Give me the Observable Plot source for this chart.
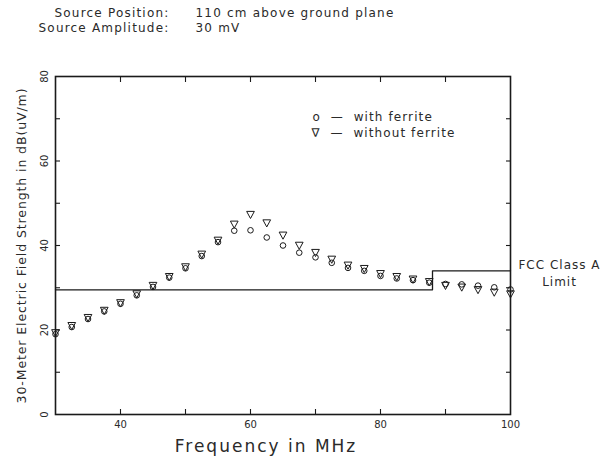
<!DOCTYPE html>
<html><head><meta charset="utf-8">
<script src="https://cdn.jsdelivr.net/npm/d3@7"></script>
<script src="https://cdn.jsdelivr.net/npm/@observablehq/plot@0.6"></script>
<style>
body{margin:0;background:#fff;}
svg text{white-space:pre;}
</style></head><body>
<div id="chart"></div>
<script>
const freq = [30,32.5,35,37.5,40,42.5,45,47.5,50,52.5,55,57.5,60,62.5,65,67.5,70,72.5,75,77.5,80,82.5,85,87.5,90,92.5,95,97.5,100];
const withFerrite = [19.0,20.7,22.6,24.4,26.2,28.2,30.2,32.4,34.6,37.5,40.8,43.5,43.6,41.9,40.0,38.3,37.2,35.9,34.7,34.0,32.8,32.2,31.8,31.2,30.9,30.8,30.5,30.1,29.6];
const withoutFerrite = [19.3,21.0,22.9,24.6,26.4,28.5,30.5,32.6,34.9,37.9,41.2,45.0,47.3,45.3,42.4,40.0,38.3,36.7,35.3,34.5,33.3,32.6,32.0,31.4,30.5,30.1,29.5,28.9,28.5];
const limitFreq = [30,88,88,100];
const limitLevel = [29.5,29.5,34,34];
const xTickValues = [40,50,60,70,80,90];
const yTickValues = [10,20,30,40,50,60,70];
const xTickLabels = [40,60,80,100];
const yTickLabels = [0,20,40,60,80];
const headerLabels = ["Source Position:","Source Amplitude:"];
const headerValues = ["110 cm above ground plane","30 mV"];
const legendLabels = ["o\u00a0\u00a0—\u00a0\u00a0with ferrite","\u2207\u00a0\u00a0—\u00a0\u00a0without ferrite"];
const yTitle = "30-Meter Electric Field Strength in dB(uV/m)";
const xTitle = "Frequency in MHz";
const limitTitle = "FCC Class A\nLimit";

const rows = freq.map((f,i)=>({f, w: withFerrite[i], wo: withoutFerrite[i]}));
const limit = limitFreq.map((f,i)=>({f, v: limitLevel[i]}));

const invTriangle = {draw(ctx, size){
  const r = Math.sqrt(size/Math.PI);
  const h = r*1.1;
  ctx.moveTo(-h, -h*0.85); ctx.lineTo(h, -h*0.85); ctx.lineTo(0, h); ctx.closePath();
}};

const ink = "#1a1a1a";
const txt = "#2a2a2a";
const tickOpts = (extra) => ({tickSize:-5, tickFormat: () => "", label: null, stroke: ink, strokeWidth: 1.1, ...extra});
const hdr = (s, dx, dy, anchor) => Plot.text([s], {frameAnchor:"top-left", dx, dy, fontSize: 12, textAnchor: anchor, lineAnchor:"middle", fill: txt});

const chart = Plot.plot({
  width: 606, height: 460,
  marginLeft: 55, marginRight: 96, marginTop: 76, marginBottom: 46,
  style: {fontFamily: "DejaVu Sans", color: txt, background: "#fff"},
  x: {domain: [30,100]},
  y: {domain: [0,80]},
  marks: [
    Plot.axisX(tickOpts({anchor:"bottom", ticks: xTickValues})),
    Plot.axisX(tickOpts({anchor:"top", ticks: xTickValues})),
    Plot.axisY(tickOpts({anchor:"left", ticks: yTickValues})),
    Plot.axisY(tickOpts({anchor:"right", ticks: yTickValues})),
    Plot.frame({stroke: ink, strokeWidth: 1.6}),
    Plot.text(xTickLabels, {x: d=>d, frameAnchor:"bottom", dy: 10, fontSize: 10, fill: txt, textAnchor:"middle", lineAnchor:"middle"}),
    Plot.text(yTickLabels, {y: d=>d, frameAnchor:"left", dx: -11, rotate: -90, fontSize: 10, fill: txt, textAnchor:"middle", lineAnchor:"middle"}),
    Plot.line(limit, {x:"f", y:"v", stroke: ink, strokeWidth: 1.3}),
    Plot.dot(rows, {x:"f", y:"w", r: 2.8, stroke: ink, strokeWidth: 1}),
    Plot.dot(rows, {x:"f", y:"wo", r: 3.5, symbol: invTriangle, stroke: ink, strokeWidth: 1}),
    Plot.text([yTitle], {frameAnchor:"left", dx: -34, rotate: -90, fontSize: 12.5, fill: txt, textAnchor:"middle", lineAnchor:"middle"}),
    Plot.text([xTitle], {frameAnchor:"bottom", dx: -17, dy: 32, fontSize: 17, fill: txt, textAnchor:"middle", lineAnchor:"middle"}),
    Plot.text([limitTitle], {frameAnchor:"right", dx: 49, dy: 27, fontSize: 12, lineHeight: 1.4, textAnchor:"middle", lineAnchor:"middle", fill: txt}),
    Plot.text([legendLabels[0]], {frameAnchor:"top-left", dx: 257, dy: 41, fontSize: 12, textAnchor:"start", lineAnchor:"middle", fill: txt}),
    Plot.text([legendLabels[1]], {frameAnchor:"top-left", dx: 256, dy: 57, fontSize: 12, textAnchor:"start", lineAnchor:"middle", fill: txt}),
    hdr(headerLabels[0], 114, -63, "end"),
    hdr(headerLabels[1], 114, -48, "end"),
    hdr(headerValues[0], 140, -63, "start"),
    hdr(headerValues[1], 140, -48, "start")
  ]
});
const spacingFor = (t) => {
  if (t === yTitle) return "0.9px";
  if (t === xTitle) return "2px";
  if (t.startsWith("FCC")) return "1px";
  if (legendLabels.includes(t)) return "1.1px";
  if (headerLabels.includes(t) || headerValues.includes(t)) return "1.2px";
  return null;
};
chart.querySelectorAll("text").forEach(el => {
  const s = spacingFor(el.textContent);
  if (s) {
    el.style.letterSpacing = s;
    el.setAttribute("letter-spacing", s);
    el.querySelectorAll("tspan").forEach(ts => { ts.style.letterSpacing = s; });
  }
});
document.getElementById("chart").appendChild(chart);
</script>
</body></html>
